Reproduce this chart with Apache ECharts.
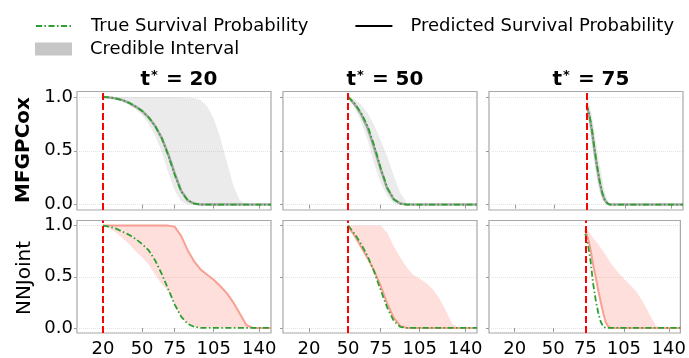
<!DOCTYPE html>
<html>
<head>
<meta charset="utf-8">
<script src="https://cdn.jsdelivr.net/npm/echarts@6/dist/echarts.min.js"></script>
<style>
  html, body { margin: 0; padding: 0; background: #fff; }
  #chart { width: 689px; height: 358px; }
</style>
</head>
<body>
<div id="chart"></div>
<script>
const tStars = [20, 50, 75]
const xTicks = [20, 50, 75, 105, 140]
const yTicks = [0, 0.5, 1]
const rowNames = ['MFGPCox', 'NNJoint']

// t* = 20
const time20 = [20, 25, 30, 35, 40, 45, 50, 55, 60, 65, 70, 75, 80, 85, 90, 95, 100, 105, 110, 115, 120, 125, 130, 135, 140, 149]
const mfgTrue20 = [1, 0.995, 0.985, 0.97, 0.945, 0.91, 0.87, 0.81, 0.73, 0.62, 0.46, 0.28, 0.12, 0.04, 0.01, 0, 0, 0, 0, 0, 0, 0, 0, 0, 0, 0]
const mfgPred20 = [1, 0.995, 0.985, 0.97, 0.945, 0.91, 0.87, 0.81, 0.73, 0.62, 0.47, 0.29, 0.13, 0.04, 0.01, 0, 0, 0, 0, 0, 0, 0, 0, 0, 0, 0]
const mfgLow20 = [1, 0.99, 0.975, 0.955, 0.925, 0.885, 0.83, 0.75, 0.64, 0.49, 0.3, 0.13, 0.03, 0, 0, 0, 0, 0, 0, 0, 0, 0, 0, 0, 0, 0]
const mfgUp20 = [1, 1, 1, 1, 1, 1, 1, 1, 1, 1, 1, 1, 0.998, 0.995, 0.99, 0.97, 0.91, 0.8, 0.62, 0.4, 0.18, 0.04, 0, 0, 0, 0]
const nnTrue20 = [1, 0.99, 0.97, 0.94, 0.91, 0.87, 0.82, 0.76, 0.66, 0.53, 0.38, 0.23, 0.11, 0.04, 0.01, 0, 0, 0, 0, 0, 0, 0, 0, 0, 0, 0]
const nnPred20 = [1, 1, 1, 1, 1, 1, 1, 1, 1, 1, 1, 0.99, 0.9, 0.76, 0.65, 0.57, 0.52, 0.47, 0.41, 0.34, 0.25, 0.14, 0.03, 0, 0, 0]
const nnLow20 = [1, 0.97, 0.93, 0.88, 0.82, 0.75, 0.69, 0.62, 0.52, 0.43, 0.36, 0.23, 0.11, 0.04, 0.01, 0, 0, 0, 0, 0, 0, 0, 0, 0, 0, 0]
const nnUp20 = [1, 1, 1, 1, 1, 1, 1, 1, 1, 1, 1, 0.99, 0.9, 0.76, 0.65, 0.57, 0.52, 0.47, 0.41, 0.34, 0.25, 0.14, 0.03, 0, 0, 0]

// t* = 50
const time50 = [50, 55, 60, 65, 70, 75, 80, 85, 90, 95, 100, 105, 110, 115, 120, 125, 130, 135, 140, 149]
const mfgTrue50 = [1, 0.94, 0.85, 0.73, 0.55, 0.34, 0.16, 0.05, 0.01, 0, 0, 0, 0, 0, 0, 0, 0, 0, 0, 0]
const mfgPred50 = [1, 0.93, 0.84, 0.71, 0.53, 0.33, 0.15, 0.05, 0.01, 0, 0, 0, 0, 0, 0, 0, 0, 0, 0, 0]
const mfgLow50 = [1, 0.9, 0.77, 0.6, 0.38, 0.2, 0.08, 0.01, 0, 0, 0, 0, 0, 0, 0, 0, 0, 0, 0, 0]
const mfgUp50 = [1, 0.98, 0.93, 0.85, 0.74, 0.6, 0.45, 0.27, 0.11, 0.02, 0, 0, 0, 0, 0, 0, 0, 0, 0, 0]
const nnTrue50 = [1, 0.92, 0.82, 0.7, 0.55, 0.37, 0.2, 0.07, 0.01, 0, 0, 0, 0, 0, 0, 0, 0, 0, 0, 0]
const nnPred50 = [0.99, 0.9, 0.79, 0.68, 0.56, 0.41, 0.24, 0.1, 0.02, 0, 0, 0, 0, 0, 0, 0, 0, 0, 0, 0]
const nnLow50 = [0.99, 0.9, 0.79, 0.68, 0.56, 0.41, 0.24, 0.1, 0.02, 0, 0, 0, 0, 0, 0, 0, 0, 0, 0, 0]
const nnUp50 = [1, 1, 1, 1, 1, 1, 0.93, 0.8, 0.69, 0.59, 0.52, 0.48, 0.44, 0.38, 0.29, 0.17, 0.04, 0, 0, 0]

// t* = 75
const time75 = [75, 77, 79, 81, 83, 85, 87, 89, 91, 93, 95, 100, 105, 110, 115, 120, 125, 130, 135, 140, 149]
const mfgTrue75 = [0.93, 0.84, 0.7, 0.52, 0.36, 0.22, 0.11, 0.04, 0.01, 0, 0, 0, 0, 0, 0, 0, 0, 0, 0, 0, 0]
const mfgPred75 = [0.92, 0.83, 0.69, 0.51, 0.35, 0.21, 0.1, 0.04, 0.01, 0, 0, 0, 0, 0, 0, 0, 0, 0, 0, 0, 0]
const mfgLow75 = [0.85, 0.72, 0.55, 0.37, 0.22, 0.11, 0.04, 0.01, 0, 0, 0, 0, 0, 0, 0, 0, 0, 0, 0, 0, 0]
const mfgUp75 = [1, 0.93, 0.83, 0.68, 0.52, 0.38, 0.24, 0.12, 0.04, 0.01, 0, 0, 0, 0, 0, 0, 0, 0, 0, 0, 0]
const nnTrue75 = [0.92, 0.82, 0.66, 0.44, 0.28, 0.15, 0.06, 0.01, 0, 0, 0, 0, 0, 0, 0, 0, 0, 0, 0, 0, 0]
const nnPred75 = [0.95, 0.88, 0.77, 0.62, 0.5, 0.37, 0.25, 0.14, 0.05, 0.01, 0, 0, 0, 0, 0, 0, 0, 0, 0, 0, 0]
const nnLow75 = [0.95, 0.88, 0.77, 0.62, 0.5, 0.37, 0.25, 0.14, 0.05, 0.01, 0, 0, 0, 0, 0, 0, 0, 0, 0, 0, 0]
const nnUp75 = [0.98, 0.95, 0.92, 0.88, 0.85, 0.82, 0.78, 0.75, 0.71, 0.67, 0.63, 0.55, 0.48, 0.42, 0.35, 0.25, 0.13, 0.02, 0, 0, 0]

const panels = [
  { row: 0, col: 0, time: time20, low: mfgLow20, up: mfgUp20, pred: mfgPred20, truth: mfgTrue20 },
  { row: 0, col: 1, time: time50, low: mfgLow50, up: mfgUp50, pred: mfgPred50, truth: mfgTrue50 },
  { row: 0, col: 2, time: time75, low: mfgLow75, up: mfgUp75, pred: mfgPred75, truth: mfgTrue75 },
  { row: 1, col: 0, time: time20, low: nnLow20, up: nnUp20, pred: nnPred20, truth: nnTrue20 },
  { row: 1, col: 1, time: time50, low: nnLow50, up: nnUp50, pred: nnPred50, truth: nnTrue50 },
  { row: 1, col: 2, time: time75, low: nnLow75, up: nnUp75, pred: nnPred75, truth: nnTrue75 }
]

const FONT = 'DejaVu Sans'
const colLeft = [77, 283, 489]
const colWidth = 194
const rowTop = [91.5, 220.5]
const rowHeight = [118.5, 119.5]
const rowStyle = [
  { band: 'rgba(128,128,128,0.16)', pred: 'rgba(128,128,128,0.65)', predWidth: 2.5 },
  { band: 'rgba(250,128,114,0.25)', pred: 'rgba(248,140,125,0.8)', predWidth: 2 }
]
const green = '#2ca02c'
const dashDot = [6, 2.5, 1.5, 2.5]

function zip(xs, ys) {
  return xs.map((x, i) => [x, ys[i]])
}

// credible band drawn as one polygon, points mapped through the axes
function bandItem(p, fill) {
  return function (params, api) {
    if (params.dataIndex !== 0) return
    let upper = p.time.map((t, k) => api.coord([t, p.up[k]]))
    let lower = p.time.map((t, k) => api.coord([t, p.low[k]])).reverse()
    return {
      type: 'polygon',
      shape: { points: upper.concat(lower) },
      style: { fill: fill }
    }
  }
}

let grids = [], xAxes = [], yAxes = [], series = []

panels.forEach((p, i) => {
  grids.push({
    left: colLeft[p.col], top: rowTop[p.row], width: colWidth, height: rowHeight[p.row],
    show: true, borderColor: '#a8a8a8', borderWidth: 1.2, backgroundColor: 'transparent'
  })
  xAxes.push({
    type: 'value', gridIndex: i, min: 0, max: 149,
    axisLine: { show: false },
    splitLine: { show: false },
    axisTick: { show: true, customValues: xTicks, length: 4, lineStyle: { color: '#999' } },
    axisLabel: {
      show: p.row === 1, customValues: xTicks, color: '#000', fontSize: 18, fontFamily: FONT, margin: 7
    }
  })
  yAxes.push({
    type: 'value', gridIndex: i, min: -0.05, max: 1.05,
    axisLine: { show: false },
    splitLine: { show: true, customValues: yTicks, lineStyle: { color: '#e4e4e4', type: 'dotted', width: 1 } },
    axisTick: { show: true, customValues: yTicks, length: 3, lineStyle: { color: '#999' } },
    axisLabel: {
      show: p.col === 0, customValues: yTicks, color: '#000', fontSize: 18, fontFamily: FONT, margin: 4,
      formatter: v => v.toFixed(1)
    }
  })
  let st = rowStyle[p.row]
  let common = { xAxisIndex: i, yAxisIndex: i, silent: true }
  series.push(Object.assign({}, common, {
    type: 'custom', name: 'band' + i, z: 1, clip: true,
    data: p.time.map((t, k) => [t, p.low[k], p.up[k]]),
    renderItem: bandItem(p, st.band)
  }))
  series.push(Object.assign({}, common, {
    type: 'line', name: 'pred' + i, z: 2, symbol: 'none',
    data: zip(p.time, p.pred), lineStyle: { color: st.pred, width: st.predWidth }
  }))
  series.push(Object.assign({}, common, {
    type: 'line', name: 'true' + i, z: 3, symbol: 'none',
    data: zip(p.time, p.truth), lineStyle: { color: green, width: 1.8, type: dashDot },
    markLine: {
      symbol: 'none', silent: true, label: { show: false },
      lineStyle: { color: '#ff0000', width: 2, type: [7, 3] },
      data: [{ xAxis: tStars[p.col] }]
    }
  }))
})

// empty series only to feed the legend
series.push({ type: 'line', name: 'True Survival Probability', xAxisIndex: 0, yAxisIndex: 0, data: [], symbol: 'none',
  lineStyle: { color: green, width: 1.8, type: dashDot }, itemStyle: { color: green } })
series.push({ type: 'line', name: 'Predicted Survival Probability', xAxisIndex: 0, yAxisIndex: 0, data: [], symbol: 'none',
  lineStyle: { color: '#000', width: 2 }, itemStyle: { color: '#000' } })
series.push({ type: 'line', name: 'Credible Interval', xAxisIndex: 0, yAxisIndex: 0, data: [], symbol: 'none',
  lineStyle: { color: '#c6c6c6' }, itemStyle: { color: '#c6c6c6' } })

let legendText = { color: '#000', fontSize: 18, fontFamily: FONT, padding: [0, 0, 0, 13] }

let titles = tStars.map((t, c) => ({
  text: '{a|t}{b|*}{a| = ' + t + '}',
  left: colLeft[c] + colWidth / 2, top: 64, textAlign: 'center',
  textStyle: {
    rich: {
      a: { fontSize: 20, fontWeight: 'bold', fontFamily: FONT, color: '#000' },
      b: { fontSize: 13, fontWeight: 'bold', fontFamily: FONT, color: '#000', padding: [0, 1, 9, 1] }
    }
  }
}))

var option = {
  animation: false,
  backgroundColor: '#fff',
  title: titles,
  legend: [
    {
      data: ['True Survival Probability', 'Predicted Survival Probability'],
      left: 30, top: 12, itemWidth: 37, itemHeight: 18, itemGap: 46,
      selectedMode: false, textStyle: legendText,
      itemStyle: { opacity: 0 }
    },
    {
      data: [{ name: 'Credible Interval', icon: 'rect' }],
      left: 30, top: 35, itemWidth: 37, itemHeight: 13,
      selectedMode: false, textStyle: legendText
    }
  ],
  graphic: [
    { type: 'text', x: 24, y: 150, rotation: Math.PI / 2,
      style: { text: rowNames[0], font: 'bold 20px "DejaVu Sans"', fill: '#000', align: 'center', verticalAlign: 'middle' } },
    { type: 'text', x: 25, y: 278, rotation: Math.PI / 2,
      style: { text: rowNames[1], font: '20px "DejaVu Sans"', fill: '#000', align: 'center', verticalAlign: 'middle' } }
  ],
  grid: grids,
  xAxis: xAxes,
  yAxis: yAxes,
  series: series
}

let myChart = echarts.init(document.getElementById('chart'))
myChart.setOption(option)
</script>
</body>
</html>
